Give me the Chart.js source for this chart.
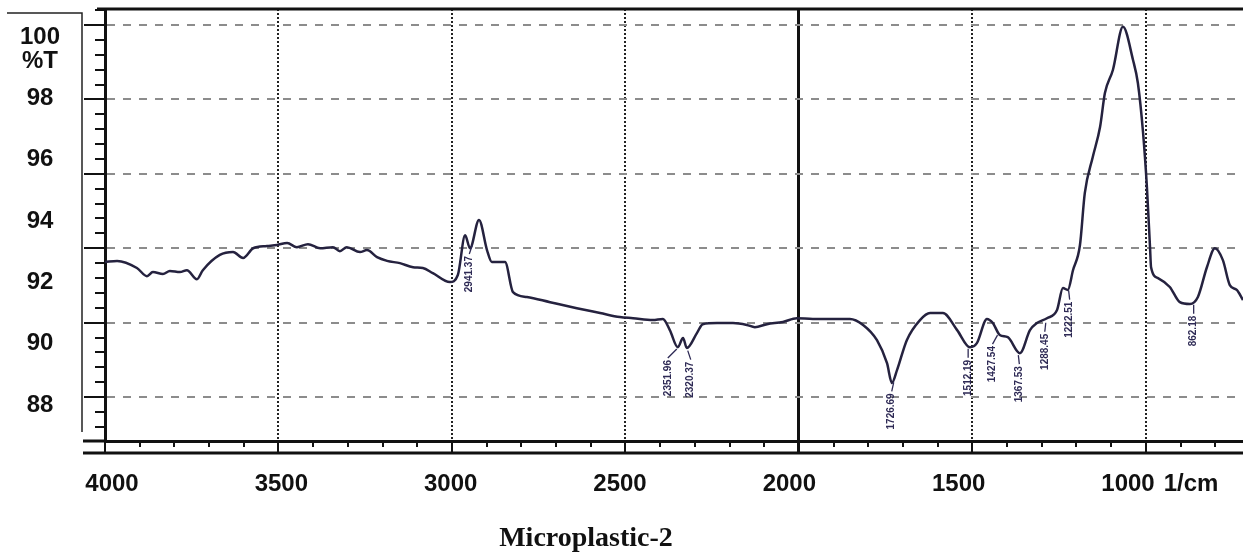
<!DOCTYPE html>
<html>
<head>
<meta charset="utf-8">
<title>Microplastic-2</title>
<script src="https://cdn.jsdelivr.net/npm/chart.js@4.4.1/dist/chart.umd.min.js"></script>
<style>
body{margin:0;background:#fff}
canvas{display:block}
</style>
</head>
<body>
<canvas id="chart" width="1243" height="559"></canvas>
<script>
// --------- data ---------
const wavenumbers=[4000,3965,3908,3879,3862,3833,3813,3784,3764,3735,3718,3669,3631,3602,3573,3533,3504,3475,3447,3415,
  3380,3343,3323,3303,3265,3245,3216,3187,3150,3112,3084,3055,3006,2983,2962,2948,2922,2899,2885,2847,
  2824,2784,2717,2640,2573,2516,2478,2421,2392,2372,2349,2334,2323,2294,2277,2236,2190,2150,2127,2092,
  2046,2006,1960,1939,1853,1815,1775,1746,1732,1717,1689,1651,1622,1585,1544,1507,1487,1458,1441,1421,
  1398,1363,1334,1314,1285,1256,1239,1225,1210,1190,1176,1153,1132,1118,1095,1066,1037,1023,1008,997,
  988,985,965,931,902,873,850,824,801,778,758,738,720];
const transmittance=[93.63,93.66,93.47,93.25,93.36,93.31,93.39,93.36,93.41,93.17,93.41,93.82,93.90,93.74,94.00,94.06,94.09,94.14,94.03,94.11,
  94.00,94.03,93.92,94.03,93.90,93.95,93.76,93.66,93.60,93.49,93.47,93.33,93.09,93.28,94.35,94.00,94.76,93.95,93.63,93.63,
  92.82,92.69,92.55,92.39,92.26,92.15,92.12,92.07,92.10,91.80,91.34,91.59,91.32,91.72,91.96,91.99,91.99,91.94,91.88,91.96,
  92.02,92.12,92.10,92.10,92.10,91.94,91.53,90.91,90.38,90.73,91.53,92.07,92.26,92.26,91.80,91.34,91.45,92.10,91.99,91.67,
  91.61,91.18,91.80,91.99,92.12,92.34,92.93,92.88,93.41,94.08,95.48,96.45,97.26,98.17,98.79,99.95,99.06,98.44,97.10,95.65,
  94.03,93.49,93.20,92.96,92.55,92.50,92.69,93.49,94.00,93.68,93.01,92.88,92.61];

const peakWn=[2941.37,2351.96,2320.37,1726.69,1512.19,1427.54,1367.53,1288.45,1222.51,862.18];
const peakText=['2941.37','2351.96','2320.37','1726.69','1512.19','1427.54','1367.53','1288.45','1222.51','862.18'];

// axis marks and the printed labels (the printed labels sit on their own, slightly tighter scale)
const xMajor=[4000,3500,3000,2500,2000,1500,1000];
const xLabelVals=[4000,3500,3000,2500,2000,1500,1000,814];
const xLabelText=['4000','3500','3000','2500','2000','1500','1000','1/cm'];
const yLabelVals=[100,99.2,98,96,94,92,90,88];
const yLabelText=['100','%T','98','96','94','92','90','88'];
const titleText='Microplastic-2';

// --------- style ---------
const INK='#111', CURVE='#25223f', TAG='#2e2a55', DASH='#8c8c8c', NONE='rgba(0,0,0,0)';
const AXFONT={family:'"Liberation Sans", Arial, sans-serif',size:24,weight:'bold'};
const labelShift=[-3,-9,3,-2,0,-5,1,-1,1,0];   // px nudges of the peak tags

function valAt(w){
  for(let i=0;i<wavenumbers.length-1;i++){
    const a=wavenumbers[i],b=wavenumbers[i+1];
    if(w<=a&&w>=b){const t=(a-w)/(a-b);return transmittance[i]+t*(transmittance[i+1]-transmittance[i]);}
  }
  return transmittance[transmittance.length-1];
}
const isMajorY=v=>Math.abs(v/2-Math.round(v/2))<1e-6;
const tickVal=c=>c.tick?c.tick.value:null;

// --------- frame, peak tags, caption ---------
const decor={
  id:'decor',
  afterDatasetsDraw(c){
    const {ctx,scales:{x,y}}=c;
    ctx.save();
    ctx.strokeStyle=TAG; ctx.fillStyle=TAG; ctx.lineWidth=1.3;
    ctx.font='bold 10px "Liberation Sans", Arial, sans-serif';
    peakWn.forEach((w,i)=>{
      const px=x.getPixelForValue(w), py=y.getPixelForValue(valAt(w))+4;
      const tx=px+labelShift[i];
      ctx.beginPath(); ctx.moveTo(px,py); ctx.lineTo(tx,py+9); ctx.stroke();
      ctx.save(); ctx.translate(tx,py+11); ctx.rotate(-Math.PI/2);
      ctx.textAlign='right'; ctx.textBaseline='middle';
      ctx.fillText(peakText[i],0,0);
      ctx.restore();
    });
    ctx.restore();
  },
  afterDraw(c){
    const {ctx,chartArea:a}=c;
    ctx.save();
    ctx.strokeStyle=INK; ctx.lineWidth=3;
    ctx.beginPath();
    ctx.moveTo(97,a.top); ctx.lineTo(a.right,a.top);            // top rule
    ctx.moveTo(83,a.bottom); ctx.lineTo(a.left,a.bottom);        // inner base rule, left stub
    ctx.moveTo(83,a.bottom+12); ctx.lineTo(a.right,a.bottom+12); // outer base rule
    ctx.stroke();
    ctx.lineWidth=1.5; ctx.strokeStyle='#222';
    ctx.beginPath();
    ctx.moveTo(7,13); ctx.lineTo(82,13); ctx.lineTo(82,432);
    ctx.stroke();
    ctx.fillStyle=INK; ctx.textAlign='center'; ctx.textBaseline='alphabetic';
    ctx.font='bold 28px "Liberation Serif", "Times New Roman", serif';
    ctx.fillText(titleText,586,546);
    ctx.restore();
  }
};

// --------- chart ---------
const ctx=document.getElementById('chart').getContext('2d');
const chart=new Chart(ctx,{
  type:'line',
  data:{datasets:[{
    data:wavenumbers.map((w,i)=>({x:w,y:transmittance[i]})),
    borderColor:CURVE,borderWidth:2.5,pointRadius:0,cubicInterpolationMode:'monotone',yAxisID:'y'
  }]},
  options:{
    responsive:false,animation:false,
    layout:{padding:{top:9,left:0,right:0,bottom:0}},
    plugins:{legend:{display:false},tooltip:{enabled:false},title:{display:false}},
    scales:{
      x:{
        type:'linear',reverse:true,min:720,max:4000,position:'bottom',weight:0,
        afterBuildTicks(s){
          const t=[];
          for(let v=800;v<=4000;v+=100)t.push({value:v});
          s.ticks=t;
        },
        afterFit(s){s.height=12;s.paddingLeft=0;s.paddingRight=0;},
        grid:{
          tickLength:12,
          color:c=>{const v=tickVal(c);return v===2000?INK:(xMajor.includes(v)?'#222':NONE);},
          lineWidth:c=>tickVal(c)===2000?3:2,
          tickColor:INK,
          tickWidth:c=>tickVal(c)===2000?3:2,
          tickBorderDash:c=>xMajor.includes(tickVal(c))?[]:[4,40]
        },
        border:{color:INK,width:3,dash:c=>(c.tick&&c.tick.value!==2000)?[2,2]:[]},
        ticks:{display:false}
      },
      xLab:{
        type:'linear',reverse:true,min:660.4,max:4020.7,position:'bottom',weight:1,
        afterBuildTicks(s){s.ticks=xLabelVals.map(v=>({value:v}));},
        afterFit(s){s.height=106;s.paddingLeft=0;s.paddingRight=0;},
        grid:{display:false,drawTicks:false},
        border:{display:false},
        ticks:{autoSkip:false,maxRotation:0,minRotation:0,padding:17,color:INK,font:AXFONT,
          callback:(v,i)=>xLabelText[i]}
      },
      y:{
        min:88.82,max:100.43,position:'left',weight:0,
        afterBuildTicks(s){
          const t=[];
          for(let i=223;i<=251;i++)t.push({value:Math.round(i*4)/10});
          s.ticks=t;
        },
        afterFit(s){s.width=23;s.paddingTop=0;s.paddingBottom=0;},
        grid:{
          tickLength:21,
          color:c=>isMajorY(tickVal(c))?DASH:NONE,
          lineWidth:2,
          tickColor:INK,tickWidth:2,
          tickBorderDash:c=>isMajorY(tickVal(c))?[]:[0,11,10,100]
        },
        border:{color:INK,width:3,dash:c=>c.tick?[8,8]:[]},
        ticks:{display:false}
      },
      yLab:{
        min:86.83,max:100.91,position:'left',weight:1,
        afterBuildTicks(s){s.ticks=yLabelVals.map(v=>({value:v}));},
        afterFit(s){s.width=82;s.paddingTop=0;s.paddingBottom=0;},
        grid:{display:false,drawTicks:false},
        border:{display:false},
        ticks:{crossAlign:'center',padding:22,color:INK,font:AXFONT,callback:(v,i)=>yLabelText[i]}
      }
    }
  },
  plugins:[decor]
});
</script>
</body>
</html>
